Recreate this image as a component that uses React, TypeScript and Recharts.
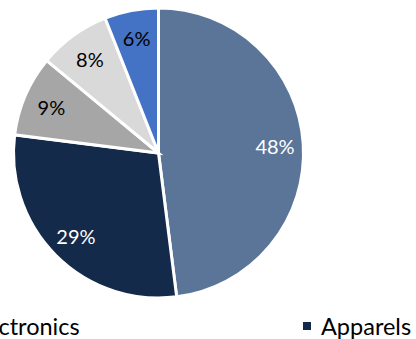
import { PieChart, Pie, Cell, Legend } from "recharts";

const categories = ["Electronics", "Apparels", "Home", "Beauty", "Others"];
const shares = [48, 29, 9, 8, 6];
const colors = ["#5B7599", "#142A4A", "#A6A6A6", "#D9D9D9", "#4472C4"];
const labelColors = ["#ffffff", "#ffffff", "#000000", "#000000", "#000000"];

const data = categories.map((name, i) => ({ name, value: shares[i] }));

const RADIAN = Math.PI / 180;

const renderLabel = (props: any) => {
  const { cx, cy, midAngle, outerRadius, index, value } = props;
  const r = outerRadius * 0.805;
  const x = cx + r * Math.cos(-midAngle * RADIAN);
  const y = cy + r * Math.sin(-midAngle * RADIAN);
  return (
    <text
      x={x}
      y={y}
      fill={labelColors[index]}
      textAnchor="middle"
      dominantBaseline="central"
      fontSize={20}
      fontFamily="Lato, sans-serif"
    >
      {`${value}%`}
    </text>
  );
};

const renderLegend = () => (
  <div style={{ display: "flex", whiteSpace: "nowrap", fontFamily: "Lato, sans-serif", fontSize: 23.5, color: "#000" }}>
    {categories.map((name, i) => (
      <div key={name} style={{ display: "flex", alignItems: "center", width: 354, flex: "none" }}>
        <span style={{ width: 8, height: 8, background: colors[i], marginRight: 10, display: "inline-block" }} />
        <span>{name}</span>
      </div>
    ))}
  </div>
);

export default function App() {
  return (
    <div style={{ position: "absolute", left: 0, top: 0, width: 416, height: 339, overflow: "hidden", background: "#fff" }}>
      <PieChart width={416} height={339} margin={{ top: 0, right: 0, bottom: 0, left: 0 }}>
        <Pie
          data={data}
          dataKey="value"
          nameKey="name"
          cx={158.5}
          cy={153}
          outerRadius={145}
          startAngle={90}
          endAngle={-270}
          stroke="#ffffff"
          strokeWidth={3}
          label={renderLabel}
          labelLine={false}
          isAnimationActive={false}
        >
          {data.map((d, i) => (
            <Cell key={d.name} fill={colors[i]} />
          ))}
        </Pie>
        <Legend
          content={renderLegend}
          wrapperStyle={{ position: "absolute", left: -51, top: 312, width: 2000 }}
        />
      </PieChart>
    </div>
  );
}
